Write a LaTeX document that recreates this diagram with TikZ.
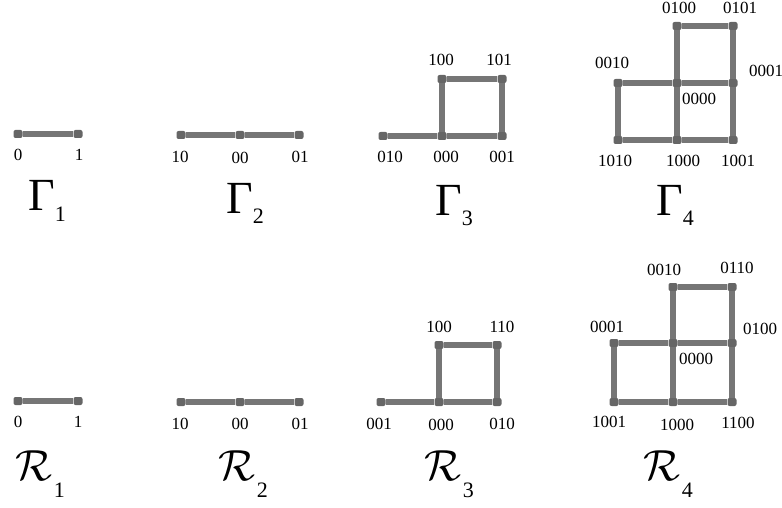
\documentclass[tikz,border=0pt]{standalone}
\usepackage{fontspec}
\usepackage{graphicx}
\setmainfont{Liberation Serif}
\usetikzlibrary{positioning}
\definecolor{edgegray}{RGB}{118,118,118}
\definecolor{vertgray}{RGB}{102,102,102}
\newcommand{\gammaname}[1]{{\fontsize{46}{46}\selectfont Γ}\raisebox{-10pt}{\fontsize{22}{22}\selectfont #1}}
\newcommand{\rname}[1]{\scalebox{1.75}{\fontsize{24}{24}\selectfont $\mathcal{R}$}\kern2pt\raisebox{-17pt}{\fontsize{22}{22}\selectfont #1}}

\begin{document}
\begin{tikzpicture}[x=1pt,y=-1pt,
    vtx/.style={rectangle,rounded corners=2pt,fill=vertgray,minimum width=9pt,minimum height=8pt,inner sep=0pt},
    link/.style={draw=edgegray,line width=5.5pt},
    bits/.style={font=\fontsize{17}{17}\selectfont,inner sep=0pt},
    title/.style={anchor=base,inner sep=0pt}]
  \useasboundingbox (0,0) rectangle (782,508);
  % --- Gamma row ---
  \node[vtx] (ga0) at (18,134) {};
  \node[vtx] (ga1) at (78,134) {};
  \draw[link] (ga0) -- (ga1);
  \node[bits] (ga0l) at (18,155) {0};
  \node[bits] (ga1l) at (79,155) {1};
  \node[title] (gat) at (47,211) {\gammaname{1}};

  \node[vtx] (gb10) at (181,135) {};
  \node[vtx] (gb00) at (240,135) {};
  \node[vtx] (gb01) at (299,135) {};
  \draw[link] (gb10) -- (gb00) -- (gb01);
  \node[bits] (gb10l) at (180,157) {10};
  \node[bits] (gb00l) at (240,158) {00};
  \node[bits] (gb01l) at (300,157) {01};
  \node[title] (gbt) at (245,213) {\gammaname{2}};

  \node[vtx] (gc010) at (383,136) {};
  \node[vtx] (gc000) at (442,136) {};
  \node[vtx] (gc001) at (502,136) {};
  \node[vtx] (gc100) at (442,79) {};
  \node[vtx] (gc101) at (502,79) {};
  \draw[link] (gc010) -- (gc000) -- (gc001) -- (gc101) -- (gc100) -- (gc000);
  \node[bits] (gc010l) at (390,157) {010};
  \node[bits] (gc000l) at (446,157) {000};
  \node[bits] (gc001l) at (502,157) {001};
  \node[bits] (gc100l) at (441,60) {100};
  \node[bits] (gc101l) at (499,60) {101};
  \node[title] (gct) at (454,215) {\gammaname{3}};

  \node[vtx] (gd0100) at (677,26) {};
  \node[vtx] (gd0101) at (733,26) {};
  \node[vtx] (gd0010) at (618,83) {};
  \node[vtx] (gd0000) at (677,83) {};
  \node[vtx] (gd0001) at (733,83) {};
  \node[vtx] (gd1010) at (618,140) {};
  \node[vtx] (gd1000) at (677,140) {};
  \node[vtx] (gd1001) at (733,140) {};
  \draw[link] (gd0100) -- (gd0101) -- (gd0001) -- (gd1001) -- (gd1000) -- (gd1010) -- (gd0010) -- (gd0000) -- (gd0001);
  \draw[link] (gd0100) -- (gd0000) -- (gd1000);
  \node[bits] (gd0100l) at (679,8) {0100};
  \node[bits] (gd0101l) at (740,8) {0101};
  \node[bits] (gd0010l) at (612,63) {0010};
  \node[bits] (gd0001l) at (766,71) {0001};
  \node[bits] (gd0000l) at (699,99) {0000};
  \node[bits] (gd1010l) at (615,161) {1010};
  \node[bits] (gd1000l) at (683,161) {1000};
  \node[bits] (gd1001l) at (738,161) {1001};
  \node[title] (gdt) at (675,215) {\gammaname{4}};

  % --- R row ---
  \node[vtx] (ra0) at (18,401) {};
  \node[vtx] (ra1) at (78,401) {};
  \draw[link] (ra0) -- (ra1);
  \node[bits] (ra0l) at (18,422) {0};
  \node[bits] (ra1l) at (78,422) {1};
  \node[title] (rat) at (40,480) {\rname{1}};

  \node[vtx] (rb10) at (181,402) {};
  \node[vtx] (rb00) at (240,402) {};
  \node[vtx] (rb01) at (299,402) {};
  \draw[link] (rb10) -- (rb00) -- (rb01);
  \node[bits] (rb10l) at (180,424) {10};
  \node[bits] (rb00l) at (240,424) {00};
  \node[bits] (rb01l) at (300,424) {01};
  \node[title] (rbt) at (243,480) {\rname{2}};

  \node[vtx] (rc001) at (381,402) {};
  \node[vtx] (rc000) at (439,402) {};
  \node[vtx] (rc010) at (497,402) {};
  \node[vtx] (rc100) at (439,345) {};
  \node[vtx] (rc110) at (497,345) {};
  \draw[link] (rc001) -- (rc000) -- (rc010) -- (rc110) -- (rc100) -- (rc000);
  \node[bits] (rc001l) at (379,424) {001};
  \node[bits] (rc000l) at (441,425) {000};
  \node[bits] (rc010l) at (502,424) {010};
  \node[bits] (rc100l) at (439,327) {100};
  \node[bits] (rc110l) at (502,327) {110};
  \node[title] (rct) at (449,480) {\rname{3}};

  \node[vtx] (rd0010) at (673,287) {};
  \node[vtx] (rd0110) at (732,287) {};
  \node[vtx] (rd0001) at (614,343) {};
  \node[vtx] (rd0000) at (673,343) {};
  \node[vtx] (rd0100) at (732,343) {};
  \node[vtx] (rd1001) at (614,402) {};
  \node[vtx] (rd1000) at (673,402) {};
  \node[vtx] (rd1100) at (732,402) {};
  \draw[link] (rd0010) -- (rd0110) -- (rd0100) -- (rd1100) -- (rd1000) -- (rd1001) -- (rd0001) -- (rd0000) -- (rd0100);
  \draw[link] (rd0010) -- (rd0000) -- (rd1000);
  \node[bits] (rd0010l) at (664,270) {0010};
  \node[bits] (rd0110l) at (737,268) {0110};
  \node[bits] (rd0001l) at (607,327) {0001};
  \node[bits] (rd0100l) at (760,329) {0100};
  \node[bits] (rd0000l) at (696,359) {0000};
  \node[bits] (rd1001l) at (609,422) {1001};
  \node[bits] (rd1000l) at (677,425) {1000};
  \node[bits] (rd1100l) at (738,423) {1100};
  \node[title] (rdt) at (668,480) {\rname{4}};
\end{tikzpicture}
\end{document}
